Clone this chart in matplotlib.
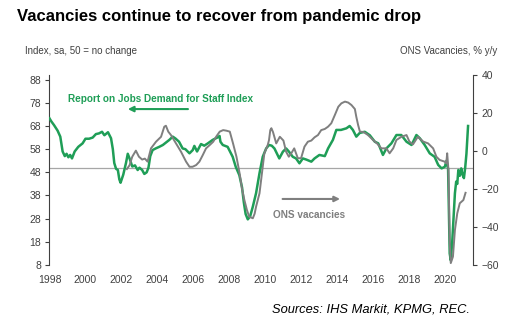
import matplotlib.pyplot as plt

# Report on Jobs demand for staff index (left axis)
rej_years = [1998.0, 1998.1, 1998.25, 1998.45, 1998.6, 1998.73, 1998.85, 1998.95, 1999.05, 1999.15,
             1999.25, 1999.4, 1999.6, 1999.84, 2000.0, 2000.2, 2000.4, 2000.58, 2000.75, 2000.92,
             2001.05, 2001.25, 2001.42, 2001.52, 2001.6, 2001.7, 2001.8, 2001.88, 2001.95, 2002.1,
             2002.25, 2002.35, 2002.45, 2002.6, 2002.75, 2002.9, 2003.0, 2003.15, 2003.27, 2003.4,
             2003.5, 2003.6, 2003.73, 2003.9, 2004.1, 2004.3, 2004.5, 2004.66, 2004.85, 2005.0,
             2005.2, 2005.4, 2005.55, 2005.78, 2005.96, 2006.05, 2006.2, 2006.42, 2006.6, 2006.8,
             2007.07, 2007.35, 2007.45, 2007.5, 2007.63, 2007.9, 2008.18, 2008.35, 2008.55, 2008.7,
             2008.8, 2008.9, 2009.02, 2009.15, 2009.3, 2009.48, 2009.67, 2009.85, 2010.04, 2010.2,
             2010.35, 2010.5, 2010.77, 2010.97, 2011.15, 2011.3, 2011.52, 2011.7, 2011.89, 2012.08,
             2012.27, 2012.55, 2012.73, 2013.0, 2013.3, 2013.48, 2013.75, 2013.94, 2014.2, 2014.5,
             2014.68, 2014.86, 2015.05, 2015.24, 2015.52, 2015.8, 2016.08, 2016.27, 2016.53, 2016.72,
             2017.0, 2017.28, 2017.55, 2017.84, 2018.12, 2018.39, 2018.58, 2018.85, 2019.13, 2019.4,
             2019.6, 2019.79, 2019.97, 2020.06, 2020.15, 2020.24, 2020.3, 2020.38, 2020.45, 2020.53,
             2020.6, 2020.66, 2020.72, 2020.8, 2020.88, 2020.95, 2021.03, 2021.1, 2021.17, 2021.26]
rej_vals = [71.3, 70.0, 68.4, 66.0, 63.4, 57.0, 55.0, 56.0, 54.5, 55.5,
            54.0, 57.0, 59.0, 60.5, 62.5, 62.5, 63.0, 64.5, 64.8, 65.5,
            64.0, 65.3, 62.7, 58.0, 52.0, 49.5, 49.0, 45.0, 43.5, 47.0,
            52.0, 56.0, 54.0, 50.5, 51.0, 49.0, 50.0, 49.0, 47.3, 48.0,
            50.0, 55.0, 57.6, 58.3, 59.0, 59.8, 61.0, 62.0, 63.4, 62.6,
            61.2, 58.3, 58.0, 56.2, 57.6, 59.4, 57.0, 60.2, 59.5, 60.5,
            62.0, 63.1, 63.7, 61.2, 59.8, 59.0, 54.7, 50.4, 46.8, 41.5,
            35.0, 30.0, 27.7, 29.0, 33.2, 39.0, 47.6, 54.7, 58.3, 59.8,
            59.5, 58.3, 54.0, 56.9, 58.3, 57.0, 54.7, 54.0, 51.9, 54.0,
            53.5, 52.6, 54.0, 55.5, 55.0, 58.3, 62.0, 66.3, 66.3, 67.0,
            68.0, 66.3, 63.4, 65.0, 65.5, 64.0, 61.2, 60.5, 55.5, 58.3,
            60.5, 64.1, 64.1, 61.2, 59.8, 64.1, 62.7, 59.8, 56.2, 54.7,
            51.2, 49.7, 50.4, 53.0, 49.5, 13.0, 10.0, 18.0, 28.0, 39.0,
            44.0, 43.0, 49.0, 46.5, 49.7, 47.0, 45.5, 50.0, 56.0, 68.0]

# ONS vacancies, % y/y (right axis)
ons_years = [2002.3, 2002.45, 2002.6, 2002.8, 2002.97, 2003.15, 2003.3, 2003.45, 2003.64, 2003.92,
             2004.2, 2004.38, 2004.47, 2004.6, 2004.75, 2005.03, 2005.31, 2005.59, 2005.78, 2005.95,
             2006.15, 2006.33, 2006.52, 2006.7, 2006.9, 2007.1, 2007.26, 2007.46, 2007.65, 2007.83,
             2008.02, 2008.2, 2008.39, 2008.57, 2008.7, 2008.83, 2008.97, 2009.1, 2009.3, 2009.4,
             2009.48, 2009.67, 2009.76, 2009.85, 2009.94, 2010.13, 2010.2, 2010.27, 2010.33, 2010.42,
             2010.6, 2010.8, 2011.0, 2011.15, 2011.3, 2011.45, 2011.6, 2011.8, 2011.98, 2012.17,
             2012.36, 2012.55, 2012.73, 2012.92, 2013.1, 2013.3, 2013.48, 2013.66, 2013.86, 2014.05,
             2014.22, 2014.42, 2014.6, 2014.78, 2014.97, 2015.05, 2015.15, 2015.25, 2015.45, 2015.7,
             2015.98, 2016.2, 2016.44, 2016.72, 2016.9, 2017.1, 2017.28, 2017.56, 2017.84, 2018.0,
             2018.2, 2018.47, 2018.76, 2019.04, 2019.32, 2019.5, 2019.68, 2019.96, 2020.05, 2020.1,
             2020.17, 2020.24, 2020.3, 2020.42, 2020.53, 2020.66, 2020.8, 2021.0, 2021.12]
ons_vals = [-9.5, -7.5, -3.0, 0.2, -3.0, -4.5, -4.0, -5.6, 1.4, 4.9,
            7.5, 12.8, 13.3, 10.2, 8.4, 4.0, -0.4, -5.6, -8.3, -8.3,
            -7.4, -5.6, -2.1, 1.4, 3.1, 4.9, 7.5, 10.2, 11.0, 10.7,
            10.2, 4.0, -3.0, -12.0, -20.0, -25.8, -31.0, -34.6, -35.4, -33.0,
            -29.3, -22.3, -15.3, -8.3, -1.2, 3.2, 5.8, 11.0, 12.0, 10.0,
            4.0, 7.5, 5.5, -0.4, -3.0, -1.0, 1.4, -3.8, -3.8, 2.3,
            4.9, 5.5, 7.2, 8.4, 11.0, 11.6, 12.8, 14.6, 19.0, 23.3,
            25.1, 26.0, 25.5, 24.2, 22.1, 18.0, 13.7, 10.2, 10.0, 8.4,
            5.8, 4.0, 1.4, 1.4, -1.2, 1.4, 5.8, 7.5, 8.4, 5.0,
            3.5, 7.5, 5.0, 4.0, 1.4, -3.0, -4.7, -5.6, -6.5, -1.2,
            -10.0, -48.0, -59.0, -55.6, -41.6, -32.8, -27.5, -25.8, -22.0]

year_ticks = list(range(1998, 2021, 2))
left_ticks = list(range(8, 89, 10))
right_ticks = list(range(-60, 41, 20))

green = '#1f9e57'
grey = '#7f7f7f'
axcol = '#404040'
plt.rcParams['font.family'] = ['Liberation Sans', 'DejaVu Sans']

fig = plt.figure(figsize=(5.16, 3.27), dpi=100)
ax = fig.add_axes([0.0959, 0.1896, 0.8213, 0.581])
ax2 = ax.twinx()

ax.axhline(50, color='#a6a6a6', lw=0.9, zorder=1)
ax.plot(rej_years, rej_vals, color=green, lw=1.8, zorder=3)
ax2.plot(ons_years, ons_vals, color=grey, lw=1.4, zorder=3)

ax.set_xlim(1998.0, 2021.55)
ax.set_ylim(8, 90)
ax2.set_ylim(-60, 40)
ax.set_xticks(year_ticks)
ax.set_yticks(left_ticks)
ax2.set_yticks(right_ticks)

for a in (ax, ax2):
    for s in ('top', 'bottom'):
        a.spines[s].set_visible(False)
    a.spines['left'].set_color(axcol)
    a.spines['right'].set_color(axcol)
    a.spines['left'].set_linewidth(0.8)
    a.spines['right'].set_linewidth(0.8)
ax.spines['right'].set_visible(False)
ax2.spines['left'].set_visible(False)

ax.tick_params(axis='x', length=0, pad=7, labelsize=7.5, labelcolor=axcol)
ax.tick_params(axis='y', direction='out', length=3, width=0.8, color=axcol,
               pad=3, labelsize=7.5, labelcolor=axcol)
ax2.tick_params(axis='y', direction='out', length=3, width=0.8, color=axcol,
                pad=3, labelsize=7.5, labelcolor=axcol)

# series labels with arrows
ax.text(2004.17, 79.6, 'Report on Jobs Demand for Staff Index', color=green,
        fontsize=7.2, fontweight='bold', ha='center', va='center')
ax.annotate('', xy=(2002.2, 75.3), xytext=(2005.85, 75.3),
            arrowprops=dict(arrowstyle='-|>', color=green, lw=1.5, mutation_scale=8))
ax.text(2010.4, 29.6, 'ONS vacancies', color=grey, fontsize=7.2,
        fontweight='bold', ha='left', va='center')
ax.annotate('', xy=(2014.3, 36.5), xytext=(2010.8, 36.5),
            arrowprops=dict(arrowstyle='-|>', color=grey, lw=1.5, mutation_scale=8))

fig.text(17 / 516, 1 - 17 / 327, 'Vacancies continue to recover from pandemic drop',
         fontsize=12, fontweight='bold', ha='left', va='center', color='black')
fig.text(25 / 516, 1 - 51 / 327, 'Index, sa, 50 = no change', fontsize=7,
         ha='left', va='center', color=axcol)
fig.text(497 / 516, 1 - 51 / 327, 'ONS Vacancies, % y/y', fontsize=7,
         ha='right', va='center', color=axcol)
fig.text(470 / 516, 1 - 309 / 327, 'Sources: IHS Markit, KPMG, REC.', fontsize=9.3,
         style='italic', ha='right', va='center', color='black')

fig.savefig('out.png', dpi=100)
